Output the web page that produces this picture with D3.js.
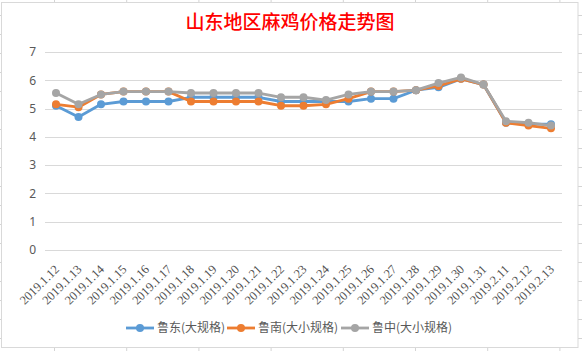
<!DOCTYPE html>
<html>
<head>
<meta charset="utf-8">
<script src="https://cdn.jsdelivr.net/npm/d3@7/dist/d3.min.js"></script>
<style>
  html, body { margin: 0; padding: 0; background: #fff; }
  svg { display: block; }
</style>
</head>
<body>
<svg id="chart" width="582" height="351"></svg>
<script>
const categories = ["2019.1.12","2019.1.13","2019.1.14","2019.1.15","2019.1.16","2019.1.17","2019.1.18","2019.1.19","2019.1.20","2019.1.21","2019.1.22","2019.1.23","2019.1.24","2019.1.25","2019.1.26","2019.1.27","2019.1.28","2019.1.29","2019.1.30","2019.1.31","2019.2.11","2019.2.12","2019.2.13"];
const seriesNames = ["鲁东(大规格)", "鲁南(大小规格)", "鲁中(大小规格)"];
const luDong  = [5.1, 4.7, 5.15, 5.25, 5.25, 5.25, 5.4, 5.4, 5.4, 5.4, 5.25, 5.25, 5.25, 5.25, 5.35, 5.35, 5.65, 5.75, 6.05, 5.85, 4.5, 4.45, 4.45];
const luNan   = [5.15, 5.05, 5.5, 5.6, 5.6, 5.6, 5.25, 5.25, 5.25, 5.25, 5.1, 5.1, 5.15, 5.35, 5.6, 5.6, 5.65, 5.8, 6.05, 5.85, 4.5, 4.4, 4.3];
const luZhong = [5.55, 5.15, 5.5, 5.6, 5.6, 5.6, 5.55, 5.55, 5.55, 5.55, 5.4, 5.4, 5.3, 5.5, 5.6, 5.6, 5.65, 5.9, 6.1, 5.85, 4.55, 4.5, 4.4];
const yTicks = [0, 1, 2, 3, 4, 5, 6, 7];
const titleText = "山东地区麻鸡价格走势图";

const colors = ["#5B9BD5", "#ED7D31", "#A5A5A5"];
const seriesValues = [luDong, luNan, luZhong];

const svg = d3.select("#chart");
const W = 582, H = 351;

// spreadsheet background grid (outside the chart frame)
const bg = svg.append("g");
d3.range(54.5, W, 72.2).forEach(x => {
  bg.append("line").attr("x1", x).attr("x2", x).attr("y1", 0).attr("y2", H).attr("stroke", "#D4D4D4");
});
d3.range(15.5, H, 19).forEach(y => {
  bg.append("line").attr("x1", 0).attr("x2", W).attr("y1", y).attr("y2", y).attr("stroke", "#D4D4D4");
});

// chart frame
svg.append("rect").attr("x", 1.5).attr("y", 2.5).attr("width", 576.5).attr("height", 345)
  .attr("fill", "#fff").attr("stroke", "#D9D9D9").attr("stroke-width", 1);

const x = d3.scalePoint().domain(categories).range([56, 551]);
const y = d3.scaleLinear().domain([0, 7]).range([250, 52]);

// gridlines
svg.append("g").selectAll("line").data(yTicks).join("line")
  .attr("x1", 45).attr("x2", 562)
  .attr("y1", d => Math.round(y(d)) + 0.5).attr("y2", d => Math.round(y(d)) + 0.5)
  .attr("stroke", "#D9D9D9").attr("stroke-width", 1);

// y axis labels
const yAxis = d3.axisLeft(y).tickValues(yTicks).tickSize(0).tickPadding(0).tickFormat(d3.format("d"));
const gy = svg.append("g").attr("transform", "translate(36,0)").call(yAxis);
gy.select(".domain").remove();
gy.selectAll("text").attr("fill", "#595959").attr("font-size", "12px")
  .attr("font-family", "'Noto Sans', 'DejaVu Sans', sans-serif");

// x axis labels
const gx = svg.append("g");
gx.selectAll("text").data(categories).join("text")
  .attr("transform", d => `translate(${x(d) + 4},${270}) rotate(-45)`)
  .attr("text-anchor", "end")
  .attr("fill", "#505050")
  .attr("font-size", "12.5px")
  .attr("font-family", "'Liberation Serif', serif")
  .text(d => d);

// lines
const line = d3.line().x((d, i) => x(categories[i])).y(d => y(d));
seriesValues.forEach((vals, s) => {
  const g = svg.append("g");
  g.append("path").datum(vals).attr("d", line)
    .attr("fill", "none").attr("stroke", colors[s]).attr("stroke-width", 2.8)
    .attr("stroke-linejoin", "round").attr("stroke-linecap", "round");
  g.selectAll("circle").data(vals).join("circle")
    .attr("cx", (d, i) => x(categories[i])).attr("cy", d => y(d)).attr("r", 4)
    .attr("fill", colors[s]);
});

// title
svg.append("text").attr("x", 290).attr("y", 29).attr("text-anchor", "middle")
  .attr("fill", "#FF0000").attr("font-size", "19px")
  .attr("font-family", "'Noto Sans CJK SC', sans-serif")
  .attr("font-weight", 500)
  .text(titleText);

// legend
const legendX = [126, 227, 341];
const leg = svg.append("g");
seriesNames.forEach((name, s) => {
  const lg = leg.append("g").attr("transform", `translate(${legendX[s]},328)`);
  lg.append("line").attr("x1", 0).attr("x2", 28).attr("y1", 0).attr("y2", 0)
    .attr("stroke", colors[s]).attr("stroke-width", 2.8);
  lg.append("circle").attr("cx", 14).attr("cy", 0).attr("r", 4).attr("fill", colors[s]);
  lg.append("text").attr("x", 31).attr("y", 0).attr("dy", "0.36em")
    .attr("fill", "#595959").attr("font-size", "12px")
    .attr("font-family", "'Noto Sans CJK SC', sans-serif")
    .text(name);
});
</script>
</body>
</html>
